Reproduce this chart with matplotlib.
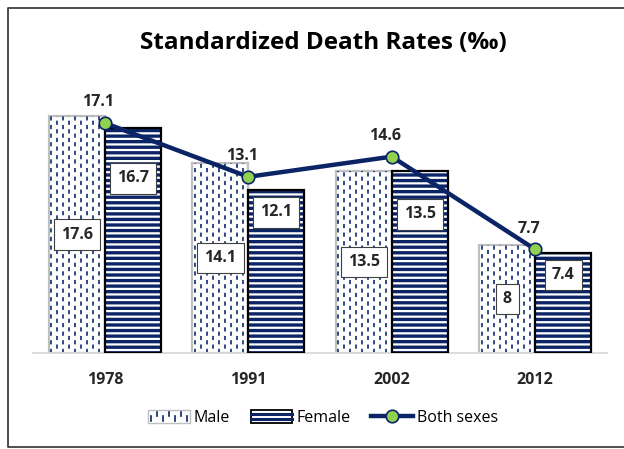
import numpy as np
import matplotlib.pyplot as plt
from matplotlib.patches import Rectangle
from matplotlib.lines import Line2D
from matplotlib.legend_handler import HandlerBase

plt.rcParams['font.family'] = ['Open Sans', 'DejaVu Sans']
plt.rcParams['lines.scale_dashes'] = False
plt.rcParams['hatch.linewidth'] = 2.4

# data
years = ['1978', '1991', '2002', '2012']
male = [17.6, 14.1, 13.5, 8]
female = [16.7, 12.1, 13.5, 7.4]
both = [17.1, 13.1, 14.6, 7.7]

NAVY = '#0B2466'
GREEN = '#92D050'
TXT = '#262626'


class MaleHandler(HandlerBase):
    def create_artists(self, legend, orig_handle, xdescent, ydescent,
                       width, height, fontsize, trans):
        x0, y0 = -xdescent, -ydescent
        arts = [Rectangle((x0, y0), width, height, facecolor='white',
                          edgecolor='#BFBFBF', lw=1, transform=trans)]
        n = 7
        for k in range(n):
            xx = x0 + width * (k + 0.5) / n
            if k % 2 == 0:
                ya, yb = y0 + height * 0.15, y0 + height * 0.55
            else:
                ya, yb = y0 + height * 0.5, y0 + height * 0.85
            arts.append(Line2D([xx, xx], [ya, yb], color=NAVY, lw=1.2,
                               transform=trans))
        return arts


class FemaleHandler(HandlerBase):
    def create_artists(self, legend, orig_handle, xdescent, ydescent,
                       width, height, fontsize, trans):
        x0, y0 = -xdescent, -ydescent
        arts = [Rectangle((x0, y0), width, height, facecolor='white',
                          edgecolor='black', lw=1.3, transform=trans)]
        for f in (0.32, 0.68):
            arts.append(Line2D([x0, x0 + width], [y0 + height * f] * 2,
                               color=NAVY, lw=2.2, transform=trans))
        return arts


fig = plt.figure(figsize=(6.24, 4.49), dpi=100)
ax = fig.add_axes([33 / 624, 96 / 449, 574 / 624, 269 / 449])
x = np.arange(len(years))
w = 0.39
ax.set_xlim(-0.5, len(years) - 0.5)
ax.set_ylim(0, 20)

# male bars: white with dashed vertical navy lines
mbars = ax.bar(x - w / 2, male, w, facecolor='white', edgecolor='#BFBFBF',
               lw=1.6, zorder=2)
px_per_unit = ax.transData.transform((1, 0))[0] - ax.transData.transform((0, 0))[0]
step = 6 / px_per_unit
for b in mbars:
    left = b.get_x()
    xs = np.arange(left + 2.7 / px_per_unit, left + b.get_width(), step)
    top = b.get_height()
    even = ax.vlines(xs[::2], 0, top, colors='#1F3A7A', lw=1.3,
                     linestyles=[(0, (3.0, 3.2))], zorder=2.5)
    odd = ax.vlines(xs[1::2], 0, top, colors='#1F3A7A', lw=1.3,
                    linestyles=[(3.1, (3.0, 3.2))], zorder=2.5)
    even.set_clip_path(b)
    odd.set_clip_path(b)

# female bars: horizontal navy stripes with black outline
ax.bar(x + w / 2, female, w, facecolor='white', edgecolor=NAVY, hatch='---',
       lw=0, zorder=2)
ax.bar(x + w / 2, female, w, facecolor='none', edgecolor='black', lw=1.6,
       zorder=3)

# both sexes line
ax.plot(x, both, color=NAVY, lw=3.2, marker='o', ms=9, mfc=GREEN, mec=NAVY,
        mew=1.2, zorder=5)

box = dict(boxstyle='square,pad=0.45', fc='white', ec='#404040', lw=0.8)
for i in range(len(years)):
    ax.annotate(f'{both[i]:g}', (x[i], both[i]), xytext=(-4.5, 15),
                textcoords='offset points', ha='center', va='center',
                fontsize=11.5, fontweight='bold', color=TXT, zorder=7)
    ax.text(x[i] - w / 2, male[i] / 2, f'{male[i]:g}', ha='center',
            va='center', fontsize=11.5, fontweight='bold', color=TXT,
            bbox=box, zorder=6)

female_drop = [36, 16, 31, 15.5]
for i in range(len(years)):
    ax.annotate(f'{female[i]:g}', (x[i] + w / 2, female[i]),
                xytext=(0, -female_drop[i]), textcoords='offset points',
                ha='center', va='center', fontsize=11.5, fontweight='bold',
                color=TXT, bbox=box, zorder=6)

ax.set_xticks(x, years, fontsize=11.5, fontweight='bold', color=TXT)
ax.tick_params(axis='x', length=0, pad=14)
ax.set_yticks([])
for s in ('left', 'right', 'top'):
    ax.spines[s].set_visible(False)
ax.spines['bottom'].set_color('#D9D9D9')
ax.spines['bottom'].set_linewidth(1.3)
ax.set_facecolor('none')

fig.text(323 / 624, 1 - 43 / 449, 'Standardized Death Rates (‰)',
         ha='center', va='center', fontsize=17.5, fontweight='bold', color='black')

handles = [Rectangle((0, 0), 1, 1), Rectangle((0, 0), 1, 1),
           Line2D([], [], color=NAVY, lw=3.2, marker='o', ms=9, mfc=GREEN,
                  mec=NAVY, mew=1.2)]
fig.legend(handles, ['Male', 'Female', 'Both sexes'], loc='center',
           bbox_to_anchor=(323 / 624, 1 - 418 / 449), ncol=3, frameon=False,
           fontsize=11.5, handlelength=2.6, handleheight=0.8,
           handletextpad=0.25, columnspacing=1.3,
           handler_map={handles[0]: MaleHandler(),
                        handles[1]: FemaleHandler()})

# chart border
fig.add_artist(Line2D([1.0, 8 / 624, 8 / 624, 1.0],
                      [1 - 8 / 449, 1 - 8 / 449, 1 - 447 / 449, 1 - 447 / 449],
                      transform=fig.transFigure, color='#404040', lw=1.3))

fig.savefig('out.png', dpi=100)
